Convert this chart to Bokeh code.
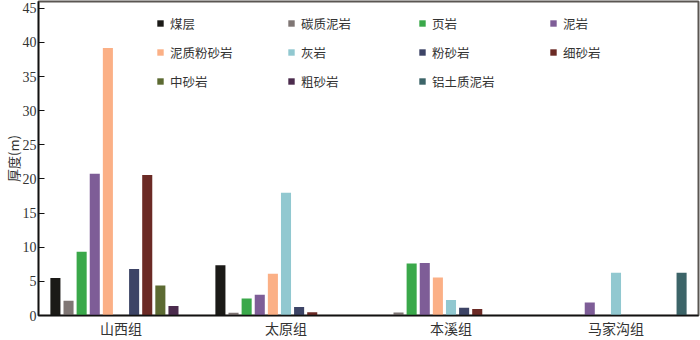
from bokeh.plotting import figure
from bokeh.models import ColumnDataSource, FixedTicker, Legend, LegendItem, FactorRange, Range1d
from bokeh.transform import dodge
from bokeh.embed import file_html
from bokeh.resources import INLINE

groups = ["山西组", "太原组", "本溪组", "马家沟组"]

series_names = ["煤层", "碳质泥岩", "页岩", "泥岩", "泥质粉砂岩", "灰岩",
                "粉砂岩", "细砂岩", "中砂岩", "粗砂岩", "铝土质泥岩"]
series_colors = ["#1b1a17", "#7f7674", "#3aa84a", "#7e5d97", "#fbb086", "#91c8d0",
                 "#3d4466", "#6b2a25", "#5c6a32", "#4b2b4d", "#3c6468"]

meiceng = [5.5, 7.35, 0.0, 0.0]
tanzhi_niyan = [2.15, 0.42, 0.45, 0.0]
yeyan = [9.35, 2.5, 7.6, 0.0]
niyan = [20.75, 3.05, 7.7, 1.9]
nizhi_fenshayan = [39.2, 6.1, 5.55, 0.0]
huiyan = [0.0, 18.0, 2.27, 6.25]
fenshayan = [6.8, 1.25, 1.15, 0.0]
xishayan = [20.6, 0.48, 0.95, 0.0]
zhongshayan = [4.4, 0.0, 0.0, 0.0]
cushayan = [1.4, 0.0, 0.0, 0.0]
lvtuzhi_niyan = [0.0, 0.0, 0.0, 6.25]

series_values = [meiceng, tanzhi_niyan, yeyan, niyan, nizhi_fenshayan, huiyan,
                 fenshayan, xishayan, zhongshayan, cushayan, lvtuzhi_niyan]
y_ticks = [0, 5, 10, 15, 20, 25, 30, 35, 40, 45]

data = {"group": groups}
for i, vals in enumerate(series_values):
    data[f"s{i}"] = vals
source = ColumnDataSource(data)

p = figure(x_range=FactorRange(*groups), y_range=Range1d(0, 46),
           width=700, height=340, output_backend="svg", toolbar_location=None,
           min_border_left=0, min_border_right=2, min_border_top=1, min_border_bottom=0)

slot = 0.0795
items = []
for i, name in enumerate(series_names):
    r = p.vbar(x=dodge("group", (i - 5) * slot, range=p.x_range), top=f"s{i}",
               width=0.061, source=source, fill_color=series_colors[i], line_color=None)
    items.append(LegendItem(label=name, renderers=[r]))

legend = Legend(items=items, orientation="horizontal", ncols=4,
                location=(118, 220), padding=0, margin=0, spacing=1,
                glyph_width=8, glyph_height=8, label_standoff=6,
                label_width=116, label_height=28,
                label_text_font="Noto Sans CJK SC", label_text_font_size="12.5px",
                label_text_color="#333333",
                border_line_alpha=0, background_fill_alpha=0)
p.add_layout(legend)

p.xgrid.grid_line_color = None
p.ygrid.grid_line_color = None
p.outline_line_color = "#5a5652"
p.outline_line_width = 2

p.yaxis.ticker = FixedTicker(ticks=y_ticks)
p.yaxis.major_tick_in = 6
p.yaxis.major_tick_out = 0
p.yaxis.minor_tick_line_color = None
p.yaxis.major_label_standoff = 2
p.yaxis.major_label_text_font = "Liberation Serif"
p.yaxis.major_label_text_font_size = "14px"
p.yaxis.major_label_text_color = "#333333"
p.yaxis.axis_label = "厚度(m)"
p.yaxis.axis_label_text_font = "Noto Sans CJK SC"
p.yaxis.axis_label_text_font_size = "13px"
p.yaxis.axis_label_text_font_style = "normal"
p.yaxis.axis_label_text_color = "#333333"
p.yaxis.axis_label_text_line_height = 0.9
p.yaxis.axis_label_standoff = -3
p.yaxis.axis_line_color = "#111111"
p.yaxis.axis_line_width = 1.5
p.yaxis.major_tick_line_color = "#111111"

p.xaxis.major_tick_in = 0
p.xaxis.major_tick_out = 0
p.xaxis.major_label_standoff = 2
p.xaxis.major_label_text_font = "Noto Sans CJK SC"
p.xaxis.major_label_text_font_size = "14px"
p.xaxis.major_label_text_color = "#333333"
p.xaxis.major_label_text_line_height = 1.0
p.xaxis.axis_line_color = "#111111"
p.xaxis.axis_line_width = 1.5

open("out.html", "w").write(file_html(p, INLINE))
